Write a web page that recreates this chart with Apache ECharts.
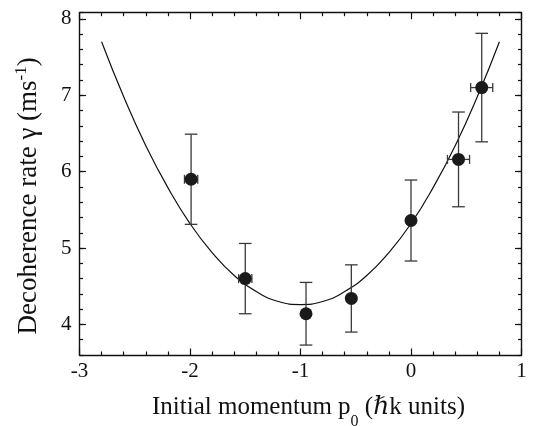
<!DOCTYPE html>
<html>
<head>
<meta charset="utf-8">
<script src="https://cdn.jsdelivr.net/npm/echarts@6/dist/echarts.min.js"></script>
<style>
html,body{margin:0;padding:0;background:#fff;}
#c{width:538px;height:426px;}
</style>
</head>
<body>
<div id="c"></div>
<script>
// ---- data ----
const pointX   = [-1.99, -1.50, -0.95, -0.54, 0.00, 0.43, 0.64];
const pointY   = [5.90, 4.60, 4.14, 4.34, 5.36, 6.16, 7.10];
const pointYErr = [0.59, 0.46, 0.41, 0.44, 0.53, 0.62, 0.71];
const pointXErr = [0.06, 0.06, 0, 0, 0, 0.10, 0.10];

const curveX = [-2.8, -2.6, -2.4, -2.2, -2.0, -1.8, -1.6, -1.4, -1.2, -1.0, -0.8, -0.6, -0.4, -0.2, 0.0, 0.2, 0.4, 0.6, 0.8];
const curveY = [7.70, 6.98, 6.34, 5.79, 5.32, 4.94, 4.64, 4.43, 4.30, 4.26, 4.30, 4.43, 4.64, 4.94, 5.32, 5.79, 6.34, 6.98, 7.70];

const yLabelValues = [4, 5, 6, 7, 8];
const xMin = -3, xMax = 1, xStep = 1;
const yMin = 3.6, yMax = 8.08, yMinorStep = 0.2;

// ---- chart ----
const FONT = "'Liberation Serif', 'DejaVu Serif', serif";
const INK = '#111111';
const chart = echarts.init(document.getElementById('c'), null, {renderer: 'canvas'});

const pointData = pointX.map((x, i) => [x, pointY[i], pointYErr[i], pointXErr[i]]);
const curveData = curveX.map((x, i) => [x, curveY[i]]);

function xAxisDef(pos, showLabels, name) {
  return {
    type: 'value', position: pos, min: xMin, max: xMax, interval: xStep,
    axisLine: {show: true, onZero: false, lineStyle: {color: INK, width: 1.4}},
    axisTick: {show: true, inside: true, length: 6.5, lineStyle: {color: INK, width: 1.2}},
    minorTick: {show: true, splitNumber: 5, length: 3.5, lineStyle: {color: INK, width: 1.2}},
    splitLine: {show: false},
    axisLabel: {show: showLabels, margin: 6, showMinLabel: true, showMaxLabel: true,
      fontFamily: FONT, fontSize: 21, color: INK},
    name: name || '',
    nameLocation: 'middle',
    nameGap: 38,
    nameTextStyle: {
      fontFamily: FONT, fontSize: 25, color: INK, lineHeight: 28, padding: [0, 0, 0, 16],
      rich: {
        sub: {fontFamily: FONT, fontSize: 16, color: INK, verticalAlign: 'bottom', lineHeight: 20, padding: [0, 0, -9, 0]}
      }
    }
  };
}

function yMinorDef(pos) {
  return {
    type: 'value', position: pos, min: yMin, max: yMax, interval: yMinorStep,
    axisLine: {show: true, onZero: false, lineStyle: {color: INK, width: 1.4}},
    axisTick: {show: true, inside: true, length: 3.5, lineStyle: {color: INK, width: 1.2}},
    splitLine: {show: false},
    axisLabel: {show: false}
  };
}

function yMajorDef(pos, showLabels, name) {
  return {
    type: 'value', position: pos, min: yMin, max: yMax,
    axisLine: {show: false, onZero: false},
    axisTick: {show: true, inside: true, length: 6.5, customValues: yLabelValues, lineStyle: {color: INK, width: 1.2}},
    splitLine: {show: false},
    axisLabel: {show: showLabels, customValues: yLabelValues, margin: 8,
      fontFamily: FONT, fontSize: 21, color: INK},
    name: name || '',
    nameLocation: 'middle',
    nameRotate: 90,
    nameGap: 36,
    nameTextStyle: {
      fontFamily: FONT, fontSize: 27, color: INK, lineHeight: 30, padding: [0, 24, 0, 0],
      rich: {
        sup: {fontFamily: FONT, fontSize: 17, color: INK, verticalAlign: 'top', lineHeight: 20}
      }
    }
  };
}

const option = {
  backgroundColor: '#ffffff',
  animation: false,
  grid: {left: 79.5, right: 16.5, top: 12.7, bottom: 71, containLabel: false, outerBoundsMode: 'none'},
  xAxis: [
    xAxisDef('bottom', true, 'Initial momentum p{sub|0} (\u210Fk units)'),
    xAxisDef('top', false)
  ],
  yAxis: [
    yMinorDef('left'),
    yMajorDef('left', true, 'Decoherence rate \u03B3 (ms{sup|-1})'),
    yMinorDef('right'),
    yMajorDef('right', false)
  ],
  series: [
    {
      type: 'line', xAxisIndex: 0, yAxisIndex: 0,
      data: curveData, smooth: true, showSymbol: false, symbol: 'none',
      lineStyle: {color: INK, width: 1.2}, z: 2
    },
    {
      type: 'custom', xAxisIndex: 0, yAxisIndex: 0,
      data: pointData, z: 3,
      renderItem: function (params, api) {
        const x = api.value(0), y = api.value(1), ey = api.value(2), ex = api.value(3);
        const top = api.coord([x, y + ey]);
        const bot = api.coord([x, y - ey]);
        const cap = 6.3, hcap = 4.5;
        const st = {stroke: '#3a3a3a', lineWidth: 1.3};
        const children = [
          {type: 'line', shape: {x1: top[0], y1: top[1], x2: bot[0], y2: bot[1]}, style: st},
          {type: 'line', shape: {x1: top[0] - cap, y1: top[1], x2: top[0] + cap, y2: top[1]}, style: st},
          {type: 'line', shape: {x1: bot[0] - cap, y1: bot[1], x2: bot[0] + cap, y2: bot[1]}, style: st}
        ];
        if (ex > 0) {
          const l = api.coord([x - ex, y]);
          const r = api.coord([x + ex, y]);
          children.push(
            {type: 'line', shape: {x1: l[0], y1: l[1], x2: r[0], y2: r[1]}, style: st},
            {type: 'line', shape: {x1: l[0], y1: l[1] - hcap, x2: l[0], y2: l[1] + hcap}, style: st},
            {type: 'line', shape: {x1: r[0], y1: r[1] - hcap, x2: r[0], y2: r[1] + hcap}, style: st}
          );
        }
        return {type: 'group', children: children};
      }
    },
    {
      type: 'scatter', xAxisIndex: 0, yAxisIndex: 0,
      data: pointData.map(d => [d[0], d[1]]),
      symbol: 'circle', symbolSize: 13,
      itemStyle: {color: '#1a1a1a', opacity: 1}, z: 4
    }
  ]
};
chart.setOption(option);
</script>
</body>
</html>
